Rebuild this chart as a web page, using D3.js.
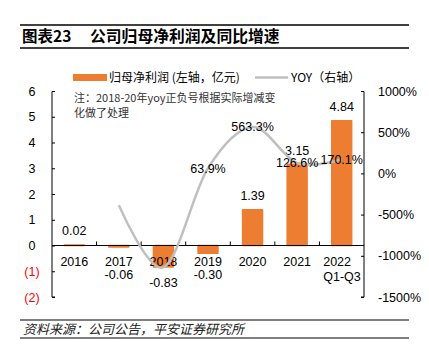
<!DOCTYPE html>
<html>
<head>
<meta charset="utf-8">
<script src="https://cdn.jsdelivr.net/npm/d3@7"></script>
<style>
  body { margin: 0; background: #fff; }
  svg { display: block; font-family: "Liberation Sans", Arial, "Noto Sans CJK SC", sans-serif; }
</style>
</head>
<body>
<div id="graphicContainer"></div>
<script>

const categories = ["2016", "2017", "2018", "2019", "2020", "2021", "2022"]
const categorySub = ["", "", "", "", "", "", "Q1-Q3"]
const profit = [0.02, -0.06, -0.83, -0.30, 1.39, 3.15, 4.84]
const yoy = [null, -385, -1140, 63.9, 563.3, 126.6, 170.1]
const yoyLabels = [null, null, null, "63.9%", "563.3%", "126.6%", "170.1%"]
const leftTicks = [-2, -1, 0, 1, 2, 3, 4, 5, 6]
const rightTicks = [-1500, -1000, -500, 0, 500, 1000]

const width = 429
const height = 354
const cjk = '"Noto Sans CJK SC", sans-serif'
const orange = "#ED7D31"
const grey = "#BFBFBF"

const svg = d3.select("#graphicContainer")
  .append("svg")
  .attr("width", width)
  .attr("height", height)

// title block
svg.append("line").attr("x1", 20).attr("x2", 409).attr("y1", 25).attr("y2", 25)
  .attr("stroke", "#000").attr("stroke-width", 1.5)
svg.append("line").attr("x1", 20).attr("x2", 409).attr("y1", 48).attr("y2", 48)
  .attr("stroke", "#000").attr("stroke-width", 1.5)
svg.append("text").attr("x", 22).attr("y", 42)
  .style("font-family", cjk).style("font-size", "15.5px").style("font-weight", "bold")
  .text("图表23")
svg.append("text").attr("x", 90).attr("y", 42)
  .style("font-family", cjk).style("font-size", "15.8px").style("font-weight", "bold")
  .text("公司归母净利润及同比增速")

// footer
svg.append("line").attr("x1", 20).attr("x2", 409).attr("y1", 320).attr("y2", 320)
  .attr("stroke", "#000").attr("stroke-width", 1.2)
svg.append("line").attr("x1", 20).attr("x2", 409).attr("y1", 338).attr("y2", 338)
  .attr("stroke", "#000").attr("stroke-width", 1.2)
svg.append("text").attr("x", 23).attr("y", 334)
  .style("font-family", cjk).style("font-size", "13px").style("font-style", "italic")
  .attr("fill", "#222")
  .text("资料来源：公司公告，平安证券研究所")

// legend
const legend = svg.append("g").style("font-family", cjk).style("font-size", "12px")
legend.append("rect").attr("x", 73).attr("y", 74).attr("width", 34).attr("height", 7).attr("fill", orange)
legend.append("text").attr("x", 109).attr("y", 81.5).text("归母净利润 (左轴，亿元)")
legend.append("line").attr("x1", 255).attr("x2", 288).attr("y1", 77.5).attr("y2", 77.5)
  .attr("stroke", grey).attr("stroke-width", 2.5)
legend.append("text").attr("x", 291).attr("y", 81.5).text("YOY（右轴）")

// scales
const x = d3.scaleBand()
  .domain(categories)
  .range([52, 364])
  .paddingInner(0.555)
  .paddingOuter(0.2775)

const yL = d3.scaleLinear().domain([-2, 6]).range([297, 91])
const yR = d3.scaleLinear().domain([-1500, 1000]).range([297, 91])

// note
const note = svg.append("text")
  .style("font-family", cjk).style("font-size", "11px").attr("fill", "#333")
note.append("tspan").attr("x", 74).attr("y", 102).text("注：2018-20年yoy正负号根据实际增减变")
note.append("tspan").attr("x", 74).attr("y", 117).text("化做了处理")

// bars
svg.selectAll(".bar")
  .data(profit)
  .enter()
  .append("rect")
  .attr("class", "bar")
  .attr("x", (d, i) => x(categories[i]))
  .attr("width", x.bandwidth())
  .attr("y", d => yL(Math.max(0, d)))
  .attr("height", d => Math.abs(yL(d) - yL(0)))
  .attr("fill", orange)
  .attr("stroke", orange)
  .attr("stroke-width", 1.6)
  .attr("stroke-linejoin", "round")

// zero line + category ticks
svg.append("line")
  .attr("x1", x.range()[0]).attr("x2", x.range()[1])
  .attr("y1", yL(0)).attr("y2", yL(0))
  .attr("stroke", "#000").attr("stroke-width", 1.2)

svg.selectAll(".ctick")
  .data(categories.slice(1))
  .enter()
  .append("line")
  .attr("x1", d => x(d) - x.step() * x.paddingInner() / 2)
  .attr("x2", d => x(d) - x.step() * x.paddingInner() / 2)
  .attr("y1", yL(0) - 4).attr("y2", yL(0))
  .attr("stroke", "#000").attr("stroke-width", 1)

// category labels
categories.forEach((c, i) => {
  const cx = x(c) + x.bandwidth() / 2
  if (categorySub[i]) {
    svg.append("text").attr("x", cx - 18.5).attr("y", 265.5)
      .style("font-size", "12.5px").text(c)
    svg.append("text").attr("x", cx - 18.5).attr("y", 281)
      .style("font-size", "12.5px").text(categorySub[i])
  } else {
    svg.append("text").attr("x", cx).attr("y", 265.5)
      .attr("text-anchor", "middle").style("font-size", "12.5px").text(c)
  }
})

// bar value labels
svg.selectAll(".barText")
  .data(profit)
  .enter()
  .append("text")
  .attr("class", "barText")
  .attr("x", (d, i) => x(categories[i]) + x.bandwidth() / 2)
  .attr("y", d => d >= 0 ? yL(d) - 9.5 : Math.max(yL(d) + 16, yL(0) + 29) + 4.5)
  .attr("text-anchor", "middle")
  .style("font-size", "12.5px")
  .text(d => d.toFixed(2))

// yoy line
const pts = yoy.map((v, i) => ({ v, c: categories[i] })).filter(d => d.v !== null)

svg.append("path")
  .datum(pts)
  .attr("fill", "none")
  .attr("stroke", grey)
  .attr("stroke-width", 2.5)
  .attr("d", d3.line()
    .x(d => x(d.c) + x.bandwidth() / 2)
    .y(d => yR(d.v))
    .curve(d3.curveCardinal.tension(0)))

svg.selectAll(".yoyText")
  .data(yoy.map((v, i) => ({ v, c: categories[i], t: yoyLabels[i] })).filter(d => d.t))
  .enter()
  .append("text")
  .attr("class", "yoyText")
  .attr("x", d => x(d.c) + x.bandwidth() / 2)
  .attr("y", d => yR(d.v) + 4.5)
  .attr("text-anchor", "middle")
  .style("font-size", "12.5px")
  .text(d => d.t)

// left axis
const leftAxis = svg.append("g")
  .attr("transform", "translate(52,0)")
  .call(d3.axisRight(yL).tickValues(leftTicks).tickSize(3).tickFormat(d => d < 0 ? "(" + Math.abs(d) + ")" : d))
leftAxis.select(".domain").attr("stroke", "#000").attr("d", "M3,91.5H0V297H3")
leftAxis.selectAll("text")
  .attr("x", -20)
  .attr("text-anchor", "middle")
  .style("font-size", "12.5px")
  .style("font-family", '"Liberation Sans", Arial, sans-serif')
  .attr("fill", d => d < 0 ? "#FF0000" : "#000")

// right axis
const rightAxis = svg.append("g")
  .attr("transform", "translate(364,0)")
  .call(d3.axisLeft(yR).tickValues(rightTicks).tickSize(3).tickFormat(d => d + "%"))
rightAxis.select(".domain").attr("stroke", "#000").attr("d", "M-3,91.5H0V297H-3")
rightAxis.selectAll("text")
  .attr("x", 14)
  .attr("text-anchor", "start")
  .style("font-size", "12.5px")
  .style("font-family", '"Liberation Sans", Arial, sans-serif')
  .attr("fill", "#000")

</script>
</body>
</html>
